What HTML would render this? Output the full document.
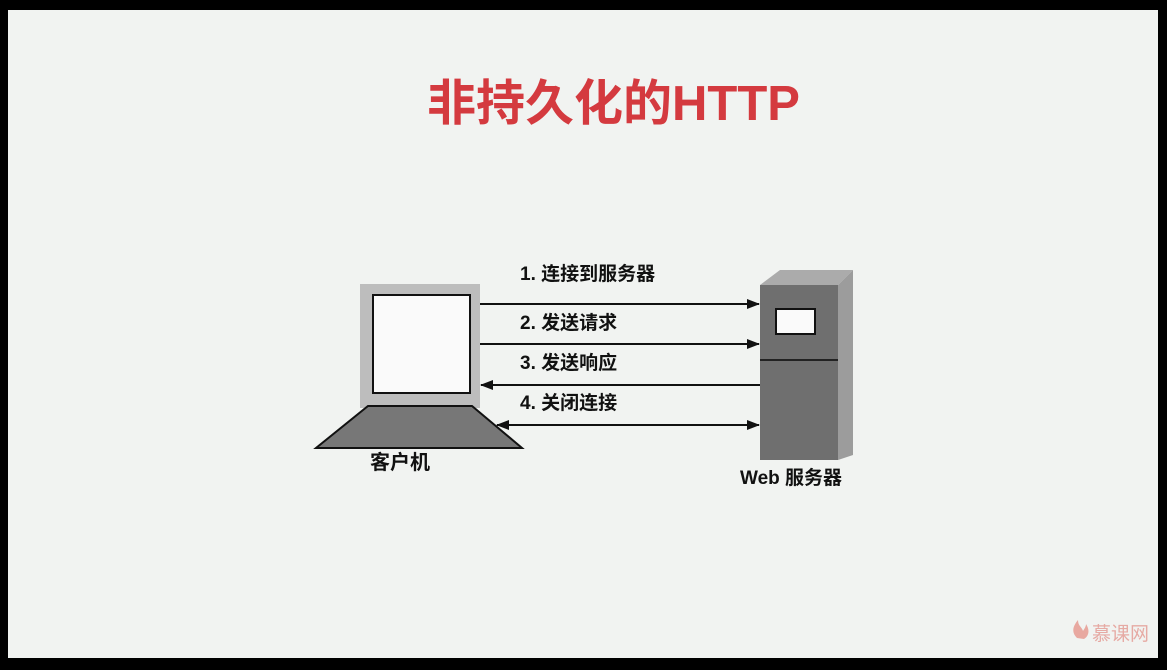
<!DOCTYPE html>
<html><head><meta charset="utf-8"><style>
html,body{margin:0;padding:0;background:#000;}
#f{position:absolute;left:8px;top:10px;width:1150px;height:648px;background:#f1f3f1;}
.t{position:absolute;font-family:"Liberation Sans","Noto Sans CJK SC",sans-serif;font-weight:bold;white-space:nowrap;color:#111;}
</style></head><body>
<div id="f"></div>
<div class="t" style="left:427px;top:73px;font-size:49px;line-height:62px;color:#d43a3f;">非持久化的HTTP</div>
<svg style="position:absolute;left:0;top:0" width="1167" height="670">
<defs><marker id="a" markerWidth="13" markerHeight="10" refX="12" refY="5" orient="auto-start-reverse" markerUnits="userSpaceOnUse"><path d="M0,0 L13,5 L0,10 z" fill="#111"/></marker></defs>
<rect x="360" y="284" width="120" height="124" fill="#bdbdbd"/>
<rect x="373" y="295" width="97" height="98" fill="#fafafa" stroke="#111" stroke-width="2"/>
<polygon points="368,406 472,406 522,448 316,448" fill="#777" stroke="#111" stroke-width="2"/>
<polygon points="760,285 780,270 853,270 838,285" fill="#ababab"/>
<polygon points="838,285 853,270 853,455 838,460" fill="#9c9c9c"/>
<rect x="760" y="285" width="78" height="175" fill="#6f6f6f"/>
<rect x="776" y="309" width="39" height="25" fill="#fafafa" stroke="#111" stroke-width="2"/>
<line x1="760" y1="360" x2="838" y2="360" stroke="#222" stroke-width="2"/>
<g stroke="#111" stroke-width="2">
<line x1="480" y1="304" x2="759" y2="304" marker-end="url(#a)"/>
<line x1="480" y1="344" x2="759" y2="344" marker-end="url(#a)"/>
<line x1="760" y1="385" x2="481" y2="385" marker-end="url(#a)"/>
<line x1="497" y1="425" x2="759" y2="425" marker-start="url(#a)" marker-end="url(#a)"/>
</g>
<path d="M1077,638 C1071,632 1073,626 1078,620 C1078,626 1082,627 1083,631 C1085,628 1086,626 1086,624 C1090,630 1089,636 1084,639 Z" fill="#e8a8a0"/>
</svg>
<div class="t" style="left:520px;top:263px;font-size:19px;line-height:24px;">1. 连接到服务器</div>
<div class="t" style="left:520px;top:312px;font-size:19px;line-height:24px;">2. 发送请求</div>
<div class="t" style="left:520px;top:352px;font-size:19px;line-height:24px;">3. 发送响应</div>
<div class="t" style="left:520px;top:392px;font-size:19px;line-height:24px;">4. 关闭连接</div>
<div class="t" style="left:370px;top:451px;font-size:20px;line-height:24px;">客户机</div>
<div class="t" style="left:740px;top:467px;font-size:19px;line-height:24px;">Web 服务器</div>
<div class="t" style="left:1092px;top:623px;font-size:19px;line-height:24px;color:#e6aaa4;font-weight:normal;">慕课网</div>
</body></html>
